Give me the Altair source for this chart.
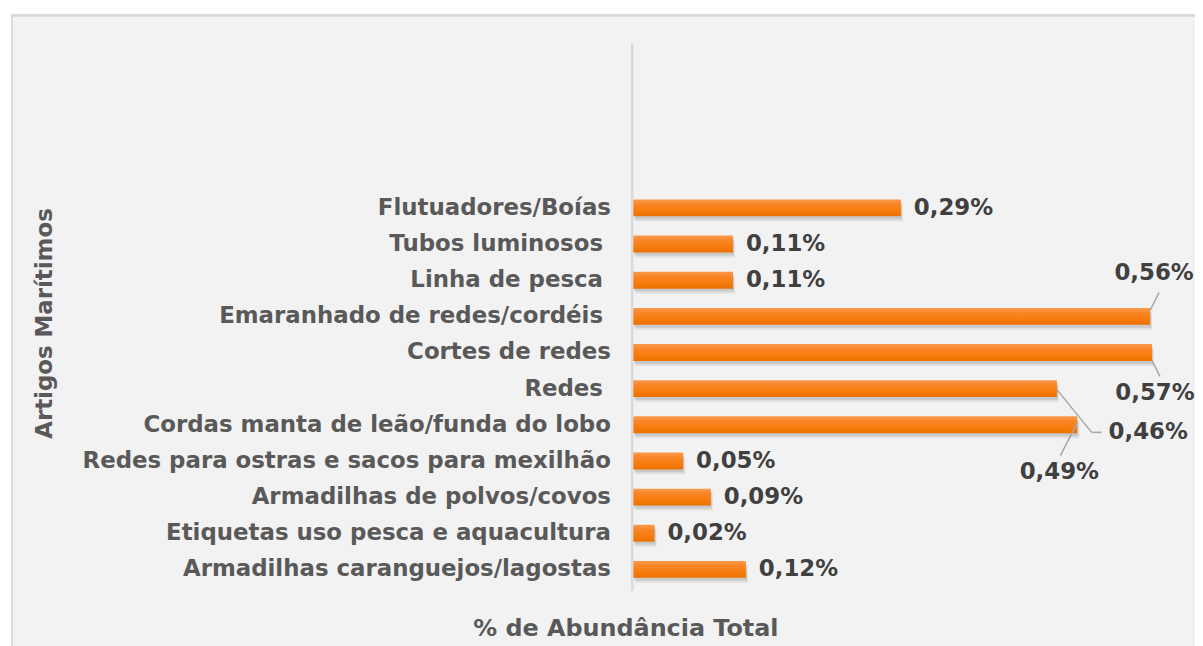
import altair as alt
import pandas as pd

categories = [
    "Flutuadores/Boías",
    "Tubos luminosos\u00a0\u200b",
    "Linha de pesca\u00a0\u200b",
    "Emaranhado de redes/cordéis\u00a0\u200b",
    "Cortes de redes",
    "Redes\u00a0\u200b",
    "Cordas manta de leão/funda do lobo",
    "Redes para ostras e sacos para mexilhão",
    "Armadilhas de polvos/covos",
    "Etiquetas uso pesca e aquacultura",
    "Armadilhas caranguejos/lagostas",
]
values = [0.290, 0.108, 0.108, 0.560, 0.562, 0.459, 0.481, 0.054, 0.084, 0.023, 0.122]
labels = ["0,29%", "0,11%", "0,11%", "0,56%", "0,57%", "0,46%", "0,49%",
          "0,05%", "0,09%", "0,02%", "0,12%"]

x_title = "% de Abundância Total"
y_title = "Artigos Marítimos"

df = pd.DataFrame({"cat": categories, "value": values, "label": labels})

FONT = "DejaVu Sans"
W, H = 557, 400
PAD_L = 629

# label placement overrides (pixel offsets from bar end), styling only
special = {
    categories[3]: dict(dx=4, dy=-44, align="center"),
    categories[4]: dict(dx=3, dy=41, align="center"),
    categories[5]: dict(dx=52, dy=44, align="left"),
    categories[6]: dict(dx=-18, dy=48, align="center"),
}
leaders = [
    (categories[3], 0, -6, 9, -24),
    (categories[4], 0, 8, 8, 24),
    (categories[5], 0, 1, 35, 44),
    (categories[5], 35, 44, 45, 44),
    (categories[6], 0, -2, -17, 31),
]

base = alt.Chart(df)
y_enc = alt.Y(
    "cat:N",
    sort=categories,
    scale=alt.Scale(paddingInner=0, paddingOuter=0),
    axis=alt.Axis(
        title=y_title,
        domain=False,
        ticks=False,
        grid=False,
        zindex=1,
        labelFont=FONT,
        labelFontSize=23,
        labelFontWeight="bold",
        labelColor="#595959",
        labelPadding=23,
        labelLimit=1000,
        titleFont=FONT,
        titleFontSize=23,
        titleFontWeight="bold",
        titleColor="#595959",
        titleX=-580,
        titleY=134,
        titleAlign="center",
    ),
)
x_enc = alt.X(
    "value:Q",
    scale=alt.Scale(domain=[0, 0.6], nice=False),
    axis=alt.Axis(
        title=x_title,
        labels=False,
        ticks=False,
        domain=False,
        grid=False,
        zindex=1,
        titleFont=FONT,
        titleFontSize=24,
        titleFontWeight="bold",
        titleColor="#595959",
        titleX=-8,
        titleY=48,
        titleAlign="center",
        titleBaseline="alphabetic",
    ),
)

frame = alt.Chart(df).mark_rect(fill="#f2f2f2", stroke="#d9d9d9", strokeWidth=2).encode(
    x=alt.value(-(PAD_L - 4)), x2=alt.value(800), y=alt.value(-175), y2=alt.value(600)
)
axis_line = alt.Chart(df).mark_rule(color="#d9d9d9", strokeWidth=1.5).encode(
    x=alt.value(-1), y=alt.value(-147), y2=alt.value(403)
)

shadow1 = base.mark_bar(color="#000000", opacity=0.10, size=17, yOffset=3, xOffset=1).encode(x=x_enc, y=y_enc)
shadow2 = base.mark_bar(color="#000000", opacity=0.07, size=17, yOffset=5, xOffset=2).encode(x=x_enc, y=y_enc)

grad = alt.Gradient(
    gradient="linear",
    stops=[
        alt.GradientStop(color="#fb9a4e", offset=0),
        alt.GradientStop(color="#f98526", offset=0.3),
        alt.GradientStop(color="#f77b0a", offset=0.7),
        alt.GradientStop(color="#ec7000", offset=1),
    ],
    x1=0, x2=0, y1=0, y2=1,
)
bars = base.mark_bar(fill=grad, size=17).encode(x=x_enc, y=y_enc)

txt_style = dict(font=FONT, fontSize=23, fontWeight="bold", color="#404040", baseline="middle")

normal_cats = [c for c in categories if c not in special]
normal = base.transform_filter(
    alt.FieldOneOfPredicate(field="cat", oneOf=normal_cats)
).mark_text(align="left", dx=13, **txt_style).encode(x=x_enc, y=y_enc, text="label:N")

layers = [frame, axis_line, shadow2, shadow1, bars, normal]

for cat, x1, y1, x2, y2 in leaders:
    layers.append(
        base.transform_filter(alt.datum.cat == cat)
        .mark_rule(color="#a6a6a6", strokeWidth=1.5,
                   xOffset=x1, yOffset=y1, x2Offset=x2, y2Offset=y2)
        .encode(x=x_enc, x2=alt.X2("value:Q"), y=y_enc, y2=alt.Y2("cat:N"))
    )

for cat, opt in special.items():
    layers.append(
        base.transform_filter(alt.datum.cat == cat)
        .mark_text(dx=opt["dx"], dy=opt["dy"], align=opt["align"], **txt_style)
        .encode(x=x_enc, y=y_enc, text="label:N")
    )

chart = alt.layer(*layers).properties(
    width=W,
    height=H,
    autosize=alt.AutoSizeParams(type="none"),
    padding={"left": PAD_L, "top": 181, "right": 8, "bottom": 57},
    background="#ffffff",
).configure_view(stroke=None)

chart.save("out.html", embed_options={"renderer": "svg", "actions": False})
